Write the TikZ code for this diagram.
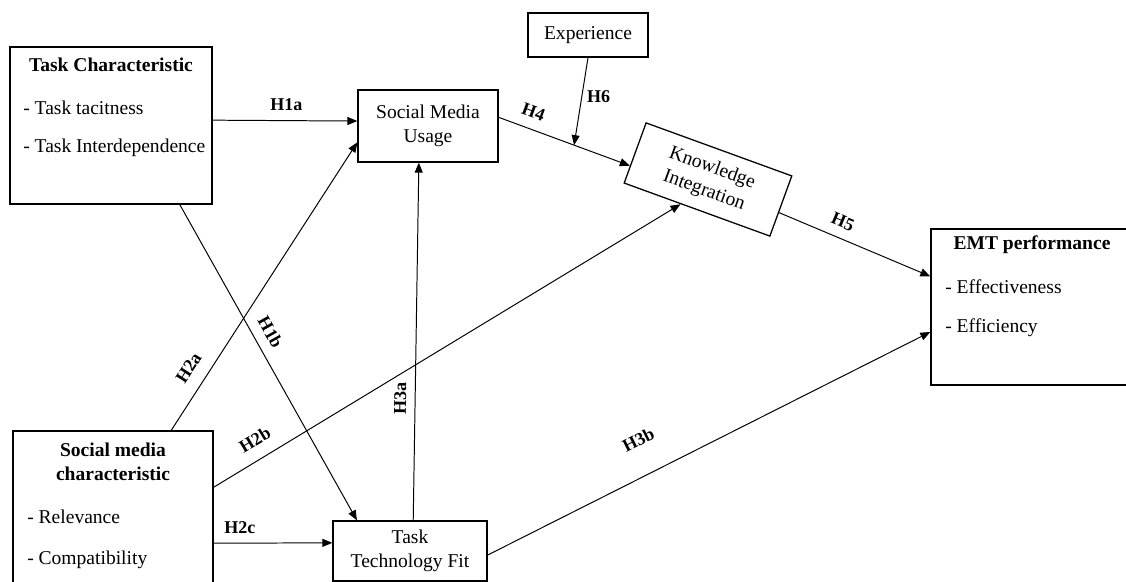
\documentclass[tikz,border=0pt]{standalone}
\usepackage{fontspec}
\setmainfont{Liberation Serif}
\usetikzlibrary{arrows.meta}

\begin{document}
\begin{tikzpicture}[x=0.025cm,y=-0.025cm,
    >={Triangle[length=0.25cm,width=0.2cm]},
    box/.style={draw,line width=0.9pt,rectangle,inner sep=0pt,align=center,
      font=\fontsize{13.9}{17}\selectfont},
    head/.style={font=\fontsize{13.9}{17}\selectfont\bfseries,align=center},
    item/.style={font=\fontsize{13.9}{17}\selectfont,anchor=west,inner sep=0pt},
    link/.style={->,line width=0.7pt},
    hyp/.style={font=\fontsize{12.8}{14}\selectfont\bfseries,inner sep=0pt}]
  \useasboundingbox (0,0) rectangle (1126,582);

  % constructs
  \node[box,minimum width=5.05cm,minimum height=3.925cm] (tc) at (111,125.5) {};
  \node[head] (tchead) at (111,65) {Task Characteristic};
  \node[item] (tc1) at (23,108) {- Task tacitness};
  \node[item] (tc2) at (23,148) {- Task Interdependence};

  \node[box,minimum width=5cm,minimum height=3.975cm] (smc) at (113,510.5) {};
  \node[head] (smchead) at (113,462) {Social media\\characteristic};
  \node[item] (smc1) at (27,517) {- Relevance};
  \node[item] (smc2) at (27,560) {- Compatibility};

  \node[box,minimum width=4.975cm,minimum height=3.9cm] (emt) at (1030.5,307) {};
  \node[head] (emthead) at (1032,245) {EMT performance};
  \node[item] (emt1) at (945,287) {- Effectiveness};
  \node[item] (emt2) at (945,328) {- Efficiency};

  \node[box,minimum width=3.5cm,minimum height=1.8cm] (smu) at (428,126) {Social Media\\Usage};
  \node[box,minimum width=3cm,minimum height=1.1cm] (exp) at (588,35) {Experience};
  \node[box,minimum width=3.85cm,minimum height=1.5cm] (ttf) at (410,551) {Task\\Technology Fit};
  \node[box,minimum width=3.875cm,minimum height=1.6cm,rotate=-20] (ki) at (708,179.5) {Knowledge\\Integration};

  % hypotheses
  \draw[link] (tc.3) -- node[hyp,above=7pt,pos=0.51] (h1a) {H1a} (smu.176);
  \draw[link] (tc.311) -- node[hyp,sloped,above=7pt,pos=0.43] (h1b) {H1b} (ttf.150);
  \draw[link] (smc.54) -- node[hyp,sloped,above=9pt,pos=0.18] (h2a) {H2a} (smu.193);
  \draw[link] (smc.13) -- node[hyp,sloped,above=9pt,pos=0.11] (h2b) {H2b} (ki.242);
  \draw[link] (smc.342) -- node[hyp,above=6.4pt,pos=0.22] (h2c) {H2c} (ttf.174);
  \draw[link] (ttf.84) -- node[hyp,sloped,above=6pt,pos=0.34] (h3a) {H3a} (smu.256);
  \draw[link] (ttf.357) -- node[hyp,sloped,above=20pt,pos=0.376] (h3b) {H3b} (emt.194);
  \draw[link] (smu.7) -- coordinate[pos=0.575] (mod)
    node[hyp,sloped,above=7.8pt,pos=0.22] (h4) {H4} (ki.190);
  \draw[link] (ki.355) -- node[hyp,sloped,above=7pt,pos=0.38] (h5) {H5} (emt.163);
  \draw[link] (exp.south) -- node[hyp,right=3.5pt,pos=0.45] (h6) {H6} (mod);
\end{tikzpicture}
\end{document}
